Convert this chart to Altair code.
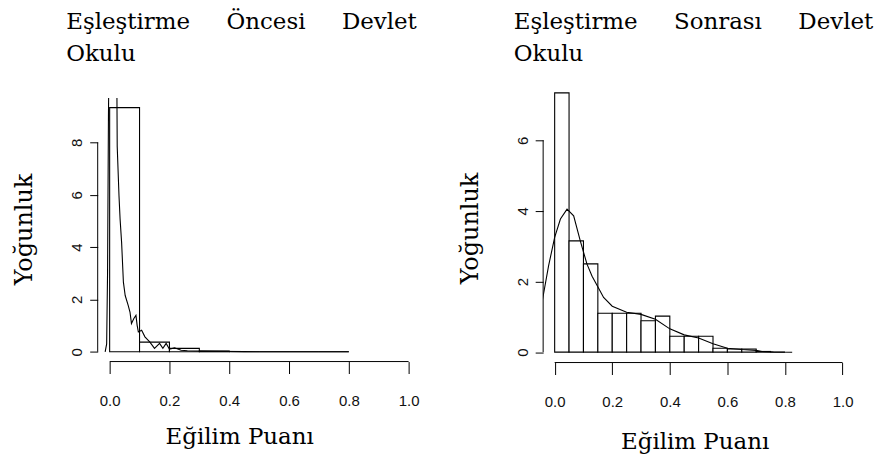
import altair as alt
import pandas as pd

NB = "\u00a0"

# ---------------- data ----------------
x_ticks = [0.0, 0.2, 0.4, 0.6, 0.8, 1.0]

# Before matching (left panel) histogram, bin width 0.1
left_bin_lo = [0.0, 0.1, 0.2, 0.3, 0.4, 0.5, 0.6, 0.7]
left_bin_hi = [0.1, 0.2, 0.3, 0.4, 0.5, 0.6, 0.7, 0.8]
left_dens = [9.33, 0.37, 0.13, 0.03, 0.0, 0.0, 0.0, 0.0]
left_y_ticks = [0, 2, 4, 6, 8]

# density curve; the peak runs off the top of the panel (segment 0 leaves, segment 1 comes back)
left_kde_x = [-0.015, -0.010, -0.007, -0.004, -0.0034,
              0.0244, 0.0253, 0.0313, 0.035, 0.04, 0.046, 0.052, 0.062, 0.068, 0.073,
              0.081, 0.088, 0.092, 0.096, 0.107, 0.118, 0.134, 0.15, 0.167, 0.178,
              0.189, 0.2, 0.217, 0.239, 0.26, 0.294, 0.35, 0.45, 0.6, 0.8]
left_kde_y = [0.0, 0.3, 3.0, 9.0, 9.7,
              9.7, 7.85, 5.95, 5.06, 4.18, 2.66, 2.15, 1.77, 1.52, 1.08,
              1.27, 1.39, 1.01, 0.76, 0.82, 0.57, 0.38, 0.13, 0.32, 0.13,
              0.32, 0.10, 0.15, 0.06, 0.04, 0.03, 0.02, 0.005, 0.0, 0.0]
left_kde_seg = [0] * 5 + [1] * 30
left_y_top = 10.29

# After matching (right panel) histogram, bin width 0.05
right_bin_lo = [0.0, 0.05, 0.10, 0.15, 0.20, 0.25, 0.30, 0.35, 0.40, 0.45,
                0.50, 0.55, 0.60, 0.65, 0.70, 0.75]
right_bin_hi = [0.05, 0.10, 0.15, 0.20, 0.25, 0.30, 0.35, 0.40, 0.45, 0.50,
                0.55, 0.60, 0.65, 0.70, 0.75, 0.80]
right_dens = [7.34, 3.15, 2.50, 1.10, 1.10, 1.10, 0.89, 1.02, 0.45, 0.45,
              0.45, 0.11, 0.09, 0.09, 0.02, 0.0]
right_y_ticks = [0, 2, 4, 6]

right_kde_x = [-0.06, -0.042, -0.021, 0.0, 0.02, 0.043, 0.066, 0.089, 0.112, 0.13,
               0.148, 0.17, 0.2, 0.25, 0.3, 0.35, 0.4, 0.45, 0.5, 0.55,
               0.6, 0.65, 0.7, 0.72, 0.76, 0.825]
right_kde_y = [0.9, 1.5, 2.45, 3.25, 3.77, 4.05, 3.86, 3.15, 2.5, 2.15,
               1.88, 1.55, 1.3, 1.13, 1.07, 0.93, 0.66, 0.49, 0.40, 0.24,
               0.11, 0.075, 0.05, 0.02, 0.005, 0.0]
right_kde_seg = [0] * len(right_kde_x)
right_y_top = 7.6336

left_title = ["Eşleştirme" + NB * 5 + "Öncesi" + NB * 5 + "Devlet", "Okulu"]
right_title = ["Eşleştirme" + NB * 5 + "Sonrası" + NB * 5 + "Devlet", "Okulu"]
x_title = "Eğilim Puanı"
y_title = "Yoğunluk"

SERIF = "DejaVu Serif"
SANS = "Liberation Sans Narrow, Liberation Sans, Arial, sans-serif"


def panel(lo, hi, dens, kde_x, kde_y, kde_seg, y_top, y_ticks, width, height, title,
          title_dx, x_title_x, x_title_pad, y_title_y):
    ydom = [-0.04 * max(dens), y_top]
    xscale = alt.Scale(domain=[-0.04, 1.04], nice=False, zero=False)
    yscale = alt.Scale(domain=ydom, nice=False, zero=False)
    xaxis = alt.Axis(values=x_ticks, format=".1f", domain=False, grid=False,
                     tickSize=12, tickColor="black", tickWidth=1,
                     labelFont=SANS, labelFontSize=15, labelColor="#111",
                     labelPadding=20, labelFlush=False, labelOverlap=False,
                     titleFont=SERIF, titleFontSize=23, titleFontWeight="normal",
                     titleColor="black", titlePadding=x_title_pad,
                     titleX=x_title_x, titleAlign="center")
    yaxis = alt.Axis(values=y_ticks, format="d", domain=False, grid=False,
                     tickSize=8, tickColor="black", tickWidth=1,
                     labelFont="Liberation Sans, Arial, sans-serif", labelFontSize=15,
                     labelColor="#111", labelAngle=270, labelAlign="center",
                     labelBaseline="bottom", labelPadding=5, labelFlush=False,
                     labelOverlap=False,
                     titleFont=SERIF, titleFontSize=24, titleFontWeight="normal",
                     titleColor="black", titlePadding=33, titleY=y_title_y)

    bars_df = pd.DataFrame({"lo": lo, "hi": hi, "d": dens, "base": [0.0] * len(lo)})
    kde_df = pd.DataFrame({"x": kde_x, "y": kde_y, "seg": kde_seg,
                           "o": list(range(len(kde_x)))})
    yrule_df = pd.DataFrame({"a": [float(y_ticks[0])], "b": [float(y_ticks[-1])]})
    xrule_df = pd.DataFrame({"a": [x_ticks[0]], "b": [x_ticks[-1]]})

    X = lambda f: alt.X(f, scale=xscale, axis=xaxis, title=x_title)
    Y = lambda f: alt.Y(f, scale=yscale, axis=yaxis, title=y_title)

    bars = alt.Chart(bars_df).mark_rect(fill="white", stroke="black", strokeWidth=1.1).encode(
        x=X("lo:Q"), x2="hi:Q", y=Y("d:Q"), y2="base:Q")
    line = alt.Chart(kde_df).mark_line(color="black", strokeWidth=1.1, clip=True).encode(
        x=X("x:Q"), y=Y("y:Q"), detail="seg:N", order="o:Q")
    yrule = alt.Chart(yrule_df).mark_rule(color="black", strokeWidth=1).encode(
        y=Y("a:Q"), y2="b:Q", x=alt.value(0))
    xrule = alt.Chart(xrule_df).mark_rule(color="black", strokeWidth=1).encode(
        x=X("a:Q"), x2="b:Q", y=alt.value(height))

    return alt.layer(bars, line, yrule, xrule).properties(
        width=width, height=height,
        title=alt.TitleParams(text=title, anchor="start", frame="group",
                              font=SERIF, fontSize=23, fontWeight="normal",
                              color="black", lineHeight=32, dx=title_dx,
                              offset=16.5))


left = panel(left_bin_lo, left_bin_hi, left_dens, left_kde_x, left_kde_y, left_kde_seg,
             left_y_top, left_y_ticks, 324, 280, left_title, -31.6, 142, 17, 147)
right = panel(right_bin_lo, right_bin_hi, right_dens, right_kde_x, right_kde_y,
              right_kde_seg, right_y_top, right_y_ticks, 312, 281, right_title,
              -29.5, 152, 21, 146)

chart = alt.hconcat(left, right, spacing=38).configure_view(stroke=None).properties(
    padding={"left": 5, "top": 2, "right": 0, "bottom": 0})

chart.save("out.html", embed_options={"renderer": "svg", "actions": False})
